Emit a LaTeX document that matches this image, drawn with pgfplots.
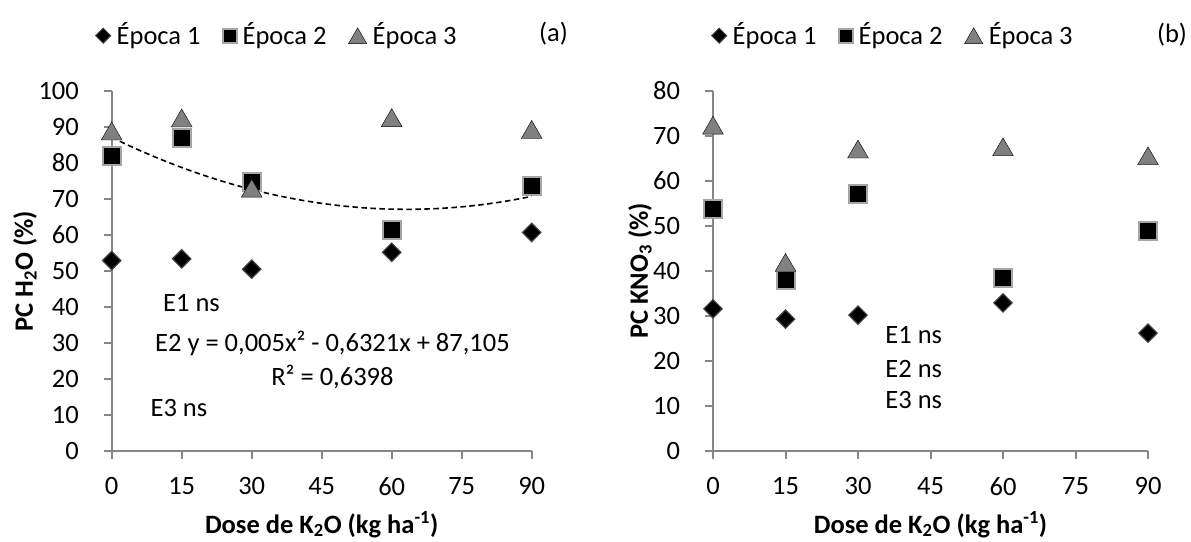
\documentclass[border=0pt]{standalone}
\usepackage{pgfplots}
\pgfplotsset{compat=1.18}
\usepackage{fontspec}
\setmainfont{Carlito}
\definecolor{axgray}{HTML}{868686}
\definecolor{trigray}{HTML}{808080}
\definecolor{sqedge}{HTML}{A6A6A6}
\definecolor{dmedge}{HTML}{404040}
\newcommand{\bigf}{\fontsize{26.5}{31}\selectfont}
\pgfplotsset{
  mystyle/.style={
    scale only axis, clip=false,
    axis lines=left, axis line style={axgray, line width=2pt, -},
    tick style={axgray, line width=2pt}, tick align=outside, major tick length=8pt,
    /pgf/number format/assume math mode=true,
    xmin=0, xmax=90, xtick={0,15,...,90}, ymin=0,
    tick label style={font=\bigf},
    yticklabel style={anchor=east, inner sep=0pt, xshift=-24.7pt},
    xticklabel style={anchor=north, inner sep=0pt, yshift=-18pt},
    label style={font=\bigf\bfseries},
    legend columns=3,
    legend style={draw=none, fill=none, inner sep=0pt, anchor=west, font=\bigf,
      /tikz/every odd column/.append style={column sep=4pt},
      /tikz/every even column/.append style={column sep=20pt}},
  },
  e1/.style={only marks, mark=square*, mark size=6.5pt, mark options={rotate=45, fill=black, draw=dmedge, line width=1.2pt}},
  e2/.style={only marks, mark=square*, mark size=9pt, mark options={fill=black, draw=sqedge, line width=2pt}},
  e3/.style={only marks, mark=triangle*, mark size=12pt, mark options={fill=trigray, draw=none, yshift=-3pt}},
  l1/.style={only marks, mark=square*, mark size=5.3pt, mark options={rotate=45, fill=black, draw=dmedge, line width=1pt}},
  l2/.style={only marks, mark=square*, mark size=7pt, mark options={fill=black, draw=sqedge, line width=2pt}},
  l3/.style={only marks, mark=triangle*, mark size=10.5pt, mark options={fill=trigray, draw=none, yshift=-2.6pt}},
}
\begin{document}
\bigf
\begin{tikzpicture}[every node/.append style={font=\bigf}]
\fill[white] (0,0) rectangle (1191pt,541pt);
\useasboundingbox (0,0) rectangle (1191pt,541pt);
% ---------- panel (a)
\begin{axis}[mystyle, at={(111.7pt,90pt)}, anchor=south west,
  width=420pt, height=360pt, ymax=100, ytick={0,10,...,100},
  xlabel={Dose de K\textsubscript{2}O (kg ha\textsuperscript{-1})},
  ylabel={PC H\textsubscript{2}O (\%)},
  xlabel style={at={(axis description cs:0.5,-0.2278)}, anchor=base},
  ylabel style={at={(axis description cs:-0.2064,0.5)}, anchor=center, rotate=0},
  legend style={at={(axis description cs:-0.0386,1.1536)}},
]
\addplot[e1, forget plot] coordinates {(0,52.9) (15,53.4) (30,50.5) (60,55.2) (90,60.7)};
\addplot[e2, forget plot] coordinates {(0,82.0) (15,86.9) (30,74.6) (60,61.4) (90,73.7)};
\addplot[e3, forget plot] coordinates {(0,88.9) (15,92.5) (30,73.0) (60,92.6) (90,89.3)};
\addplot[black, line width=1.6pt, dash pattern=on 5.5pt off 3.5pt, smooth, forget plot] coordinates {
 (0,87.105) (5,84.070) (10,81.284) (15,78.749) (20,76.463) (25,74.428) (30,72.642)
 (35,71.107) (40,69.821) (45,68.786) (50,68.000) (55,67.465) (60,67.179) (65,67.144)
 (70,67.358) (75,67.823) (80,68.537) (85,69.502) (90,70.716)};
\addlegendimage{l1}\addlegendentry{Época 1}
\addlegendimage{l2}\addlegendentry{Época 2}
\addlegendimage{l3}\addlegendentry{Época 3}
\node[anchor=base] at (axis cs:17.1,38.7) {E1 ns};
\node[anchor=base] at (axis cs:47.3,27.6) {E2 y = 0,005x² - 0,6321x + 87,105};
\node[anchor=base] at (axis cs:47.3,18.3) {R² = 0,6398};
\node[anchor=base] at (axis cs:14.4,9.5) {E3 ns};
\node at (axis description cs:1.0519,1.1583) {(a)};
\end{axis}
% ---------- panel (b)
\begin{axis}[mystyle, at={(713pt,90pt)}, anchor=south west,
  width=435pt, height=360pt, ymax=80, ytick={0,10,...,80},
  xlabel={Dose de K\textsubscript{2}O (kg ha\textsuperscript{-1})},
  ylabel={PC KNO\textsubscript{3} (\%)},
  xlabel style={at={(axis description cs:0.5,-0.2278)}, anchor=base},
  ylabel style={at={(axis description cs:-0.1678,0.5)}, anchor=center, rotate=0},
  legend style={at={(axis description cs:-0.0034,1.1536)}},
]
\addplot[e1, forget plot] coordinates {(0,31.6) (15,29.3) (30,30.2) (60,32.9) (90,26.2)};
\addplot[e2, forget plot] coordinates {(0,53.7) (15,37.9) (30,57.0) (60,38.5) (90,48.9)};
\addplot[e3, forget plot] coordinates {(0,72.4) (15,41.9) (30,67.1) (60,67.6) (90,65.6)};
\addlegendimage{l1}\addlegendentry{Época 1}
\addlegendimage{l2}\addlegendentry{Época 2}
\addlegendimage{l3}\addlegendentry{Época 3}
\node[anchor=base west] at (axis cs:33.8,23.9) {E1 ns};
\node[anchor=base west] at (axis cs:33.8,16.4) {E2 ns};
\node[anchor=base west] at (axis cs:33.8,9.4) {E3 ns};
\node at (axis description cs:1.0552,1.157) {(b)};
\end{axis}
\end{tikzpicture}
\end{document}
